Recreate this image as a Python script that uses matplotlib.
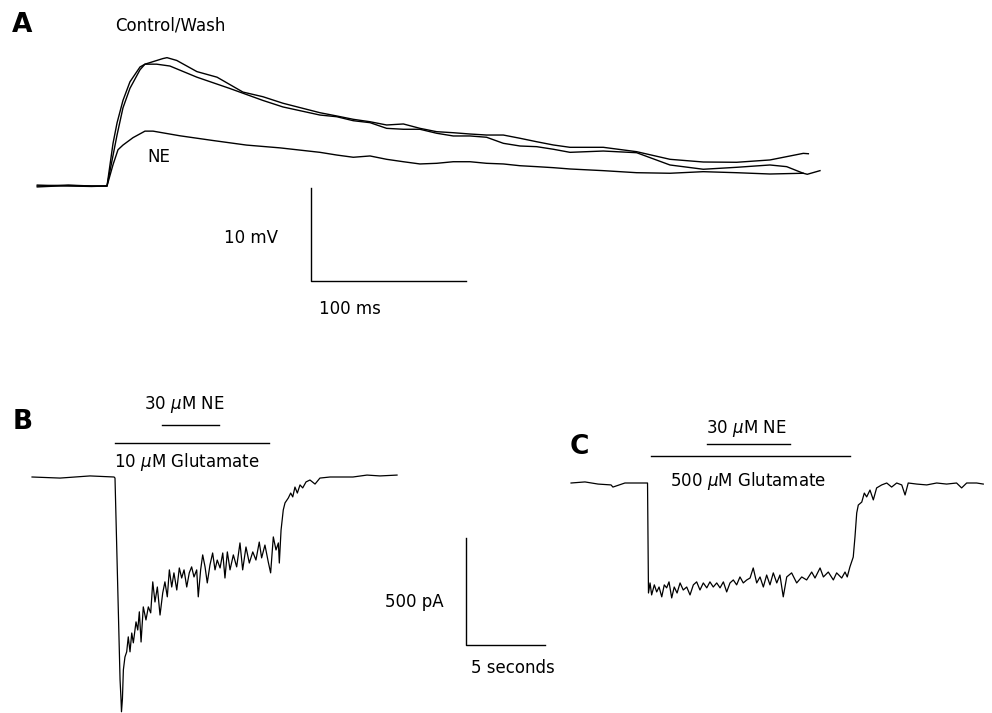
import matplotlib
matplotlib.use("Agg")
import matplotlib.pyplot as plt

W, H = 992, 713

# ---- Panel A: EPSPs, time in ms, membrane potential in mV ----
ctrl_t = [-45, -25, -10, 0, 3.9, 6.5, 10.3, 14.8, 21.3, 24.5, 36, 38.7, 45, 58, 71, 87.7, 100.6, 113.5,
          137.4, 148.2, 158.9, 169.7, 180.4, 191.2, 201.9, 212.7, 223.4, 234.2, 244.9, 255.7, 266.5, 277.2,
          288.0, 298.7, 320.2, 341.7, 363.2, 384.7, 406.2, 427.7, 449.2, 452.5]
ctrl_v = [0.1, 0.0, -0.05, 0, 4.6, 6.8, 9.2, 11.2, 12.8, 13.1, 13.7, 13.8, 13.5, 12.3, 11.7, 10.1, 9.6, 8.9,
          7.88, 7.53, 7.17, 6.91, 6.56, 6.67, 6.20, 5.84, 5.73, 5.59, 5.48, 5.48, 5.13, 4.76,
          4.41, 4.16, 4.16, 3.69, 2.87, 2.58, 2.55, 2.80, 3.51, 3.47]

wash_t = [-45, -25, -10, 0, 3.9, 6.5, 10.3, 14.8, 21.3, 24.5, 32, 40.6, 58, 79, 100.6, 113.5,
          137.4, 148.2, 158.9, 169.7, 180.4, 191.2, 201.9, 212.7, 223.4, 234.2, 244.9, 255.7, 266.5, 277.2,
          288.0, 298.7, 320.2, 341.7, 363.2, 384.7, 406.2, 427.7, 438.5, 449.2, 451.8, 460]
wash_v = [0.0, 0.1, 0.0, 0, 3.3, 5.5, 8.4, 10.5, 12.5, 13.1, 13.1, 12.9, 11.7, 10.5, 9.2, 8.5,
          7.63, 7.45, 7.02, 6.81, 6.20, 6.10, 6.10, 5.67, 5.38, 5.38, 5.24, 4.59, 4.30, 4.23,
          3.95, 3.62, 3.76, 3.58, 2.26, 1.80, 2.01, 2.26, 2.08, 1.37, 1.26, 1.65]

ne_t = [-45, -25, -10, 0, 3.9, 7.1, 10.3, 16.8, 24.5, 29.7, 47, 68, 90, 111.6,
        137.4, 148.2, 158.9, 169.7, 180.4, 191.2, 201.9, 212.7, 223.4, 234.2, 244.9, 255.7, 266.5, 277.2,
        288.0, 298.7, 320.2, 341.7, 363.2, 384.7, 406.2, 427.7, 449.2]
ne_v = [-0.1, 0.05, 0.0, 0, 2.3, 3.9, 4.4, 5.2, 5.9, 5.9, 5.4, 4.9, 4.4, 4.1,
        3.62, 3.33, 3.09, 3.23, 2.87, 2.61, 2.37, 2.44, 2.61, 2.61, 2.44, 2.37, 2.18, 2.08,
        1.97, 1.83, 1.65, 1.43, 1.37, 1.54, 1.43, 1.29, 1.37]

# ---- Panel B: 10 uM glutamate current, time in s, current in pA ----
b_t = [-5.25, -3.48, -1.58, -0.06, 0.0, 0.32, 0.38, 0.41, 0.47, 0.53, 0.63, 0.74, 0.84, 0.95, 1.06, 1.16,
       1.33, 1.44, 1.54, 1.65, 1.79, 1.96, 2.11, 2.26, 2.39, 2.53, 2.68, 2.85, 3.02, 3.16, 3.31, 3.44,
       3.59, 3.73, 3.91, 4.07, 4.22, 4.37, 4.54, 4.70, 4.85, 5.00, 5.17, 5.27, 5.42, 5.55, 5.70, 5.84,
       6.01, 6.18, 6.33, 6.47, 6.65, 6.82, 6.96, 7.11, 7.28, 7.49, 7.70, 7.91, 8.08, 8.29, 8.50, 8.72,
       8.92, 9.13, 9.28, 9.49, 9.70, 9.85, 10.02, 10.19, 10.34, 10.40, 10.51, 10.65, 10.76, 10.97, 11.12,
       11.25, 11.39, 11.54, 11.71, 11.88, 12.09, 12.34, 12.66, 12.97, 13.61, 14.24, 15.06, 15.95, 16.77, 17.85]
b_i = [0, -5, 5, 0, -5, -948, -1037, -1097, -1037, -901, -841, -817, -747, -817, -729, -775,
       -677, -715, -630, -771, -607, -668, -607, -635, -490, -584, -514, -645, -542, -490, -560, -434,
       -514, -448, -528, -425, -472, -434, -514, -448, -420, -467, -434, -560, -434, -364, -420, -495,
       -411, -355, -434, -388, -425, -355, -472, -350, -434, -364, -420, -308, -434, -327, -402, -350,
       -388, -304, -378, -318, -397, -448, -280, -341, -308, -402, -248, -154, -121, -98, -75,
       -93, -47, -75, -37, -51, -23, -14, -33, -5, 0, 0, 0, 9, 5, 9]

# ---- Panel C: 500 uM glutamate current ----
c_t = [-4.87, -3.99, -3.16, -2.34, -2.22, -1.46, -0.19, -0.03, 0.03, 0.13, 0.23, 0.40, 0.55, 0.70, 0.87,
       1.03, 1.18, 1.33, 1.50, 1.66, 1.84, 2.03, 2.23, 2.45, 2.66, 2.87, 3.08, 3.29, 3.50, 3.72, 3.92,
       4.13, 4.35, 4.56, 4.77, 4.98, 5.19, 5.40, 5.61, 5.82, 6.03, 6.25, 6.46, 6.66, 6.88, 7.09, 7.30,
       7.51, 7.72, 7.93, 8.15, 8.35, 8.56, 8.78, 9.09, 9.41, 9.73, 10.04, 10.36, 10.57, 10.89, 11.10,
       11.41, 11.73, 11.94, 12.26, 12.47, 12.61, 12.78, 12.99, 13.10, 13.21, 13.31, 13.53, 13.69, 13.84,
       14.05, 14.26, 14.47, 14.79, 15.11, 15.42, 15.74, 16.06, 16.27, 16.47, 17.01, 17.64, 18.27, 18.90,
       19.53, 19.85, 20.17, 20.80, 21.22]
c_i = [0, 5, -5, -9, -19, 0, 0, 0, -514, -467, -523, -476, -509, -486, -532,
       -476, -490, -462, -537, -486, -514, -467, -500, -486, -523, -476, -462, -500, -467, -490, -462,
       -486, -467, -490, -462, -509, -467, -453, -476, -439, -467, -453, -444, -397, -467, -439, -486,
       -430, -476, -420, -467, -430, -532, -439, -420, -467, -439, -453, -416, -444, -397, -439,
       -416, -453, -420, -444, -416, -439, -392, -346, -252, -140, -103, -89, -47, -65,
       -33, -79, -23, -9, 0, -19, 0, -9, -56, 0, -5, -9, 0, -5,
       0, -23, 0, 0, -5]

# drug application bars (s)
b_glu = (0.0, 9.75)
b_ne = (2.97, 6.58)
c_glu = (0.19, 12.78)
c_ne = (3.73, 8.99)


def panel_axes(fig, x0, y0, sx, sy):
    """Full-figure transparent axes; data origin sits at pixel (x0, y0)."""
    ax = fig.add_axes([0, 0, 1, 1])
    ax.set_xlim(-x0 / sx, (W - x0) / sx)
    ax.set_ylim((y0 - H) / sy, y0 / sy)
    ax.axis("off")
    ax.patch.set_alpha(0)
    return ax


fig = plt.figure(figsize=(W / 100, H / 100), dpi=100)
fig.patch.set_facecolor("white")

fs = 12
lw = 1.0
letter = dict(fontsize=19, fontweight="bold", ha="center", va="center")

# Panel A
axA = panel_axes(fig, 107, 186, 1.55, 9.3)
for t, v in [(ctrl_t, ctrl_v), (wash_t, wash_v), (ne_t, ne_v)]:
    axA.plot(t, v, color="black", lw=lw)
axA.plot([131.4, 131.4, 231.4], [-0.2, -10.2, -10.2], color="black", lw=lw)
axA.text(-54.8, 17.3, "A", **letter)
axA.text(5.2, 17.3, "Control/Wash", fontsize=fs, ha="left", va="center")
axA.text(33.5, 3.1, "NE", fontsize=fs, ha="center", va="center")
axA.text(110.3, -5.6, "10 mV", fontsize=fs, ha="right", va="center")
axA.text(157, -13.2, "100 ms", fontsize=fs, ha="center", va="center")

# Panel B
axB = panel_axes(fig, 115, 477, 15.8, 0.214)
axB.plot(b_t, b_i, color="black", lw=0.9)
axB.plot(b_glu, [159, 159], color="black", lw=lw)
axB.plot(b_ne, [243, 243], color="black", lw=lw)
axB.text(-5.82, 257, "B", **letter)
axB.text(4.37, 341, r"30 $\mu$M NE", fontsize=fs, ha="center", va="center")
axB.text(4.56, 70, r"10 $\mu$M Glutamate", fontsize=fs, ha="center", va="center")
# shared scale bar
axB.plot([22.2, 22.2, 27.2], [-285, -785, -785], color="black", lw=lw)
axB.text(17.1, -584, "500 pA", fontsize=fs, ha="left", va="center")
axB.text(22.5, -893, "5 seconds", fontsize=fs, ha="left", va="center")

# Panel C
axC = panel_axes(fig, 648, 483, 15.8, 0.214)
axC.plot(c_t, c_i, color="black", lw=0.9)
axC.plot(c_glu, [126, 126], color="black", lw=lw)
axC.plot(c_ne, [182, 182], color="black", lw=lw)
axC.text(-4.37, 168, "C", **letter)
axC.text(6.2, 257, r"30 $\mu$M NE", fontsize=fs, ha="center", va="center")
axC.text(6.33, 9, r"500 $\mu$M Glutamate", fontsize=fs, ha="center", va="center")

fig.savefig("out.png", dpi=100)
